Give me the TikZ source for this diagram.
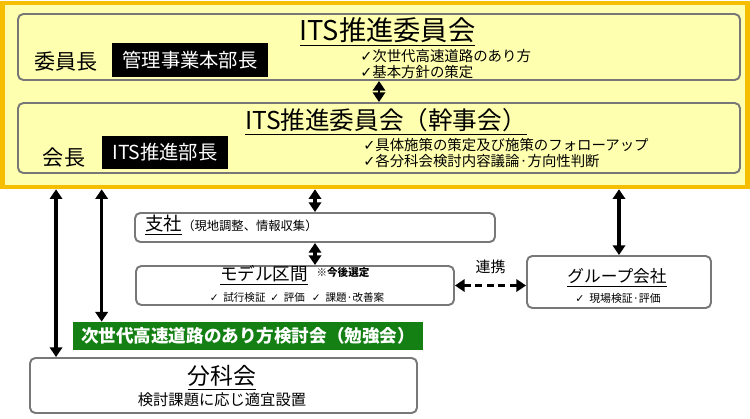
\documentclass[tikz,border=0pt]{standalone}
\usepackage{fontspec}
\setmainfont{Noto Sans CJK JP}
\newfontfamily\chkfont{DejaVu Sans}
\newcommand{\chk}{{\chkfont ✓}}
\usetikzlibrary{arrows.meta}
\definecolor{frame}{RGB}{245,190,0}
\definecolor{paleyellow}{RGB}{255,255,176}
\definecolor{boxgray}{RGB}{120,120,120}
\definecolor{studygreen}{RGB}{20,128,20}
\tikzset{
	panel/.style={draw=boxgray, line width=1.1pt, rounded corners=3pt, fill=white, inner sep=0pt},
	blackbox/.style={fill=black, text=white, inner sep=0pt},
	dbl/.style={{Triangle[length=5.5pt,width=7pt]}-{Triangle[length=5.5pt,width=7pt]}, line width=2pt},
	bigtitle/.style={font=\fontsize{14}{16}\selectfont, inner sep=0pt},
	midtitle/.style={font=\fontsize{10}{12}\selectfont, inner sep=0pt},
	small/.style={font=\fontsize{6}{7}\selectfont, inner sep=0pt}
}

\begin{document}
\begin{tikzpicture}
	\useasboundingbox (0,0) rectangle (15,-8.36);

	% Yellow frame
	\node[draw=frame, line width=2.3pt, fill=paleyellow, minimum width=14.9cm, minimum height=3.69cm, inner sep=0pt] (outer) at (7.5,-1.9) {};

	%Committee
	\node[panel, fill=paleyellow, minimum width=14.44cm, minimum height=1.32cm] (iinkai) at (7.58,-0.94) {};
	\node[bigtitle, font=\fontsize{15.5}{17}\selectfont] (iinkaiT) at (7.75,-0.64) {\underline{ITS推進委員会}};
	\node[inner sep=0pt, font=\fontsize{12}{14}\selectfont] (chair) at (1.32,-1.24) {委員長};
	\node[blackbox, minimum width=3.12cm, minimum height=0.68cm, font=\fontsize{11}{13}\selectfont] (chairName) at (3.8,-1.2) {管理事業本部長};
	\node[inner sep=0pt, anchor=north west, align=left, font=\fontsize{8.2}{9}\selectfont] (iinkaiC) at (7.2,-0.98) {\chk 次世代高速道路のあり方\\\chk 基本方針の策定};

	%Executive committee
	\node[panel, fill=paleyellow, minimum width=14.44cm, minimum height=1.4cm] (kanji) at (7.58,-2.76) {};
	\node[bigtitle] (kanjiT) at (7.72,-2.44) {\underline{ITS推進委員会（幹事会）}};
	\node[inner sep=0pt, font=\fontsize{12}{14}\selectfont] (head) at (1.28,-3.16) {会長};
	\node[blackbox, minimum width=2.52cm, minimum height=0.66cm, font=\fontsize{11}{13}\selectfont] (headName) at (3.3,-3.05) {ITS推進部長};
	\node[inner sep=0pt, anchor=north west, align=left, font=\fontsize{8.2}{9}\selectfont] (kanjiC) at (7.26,-2.76) {\chk 具体施策の策定及び施策のフォローアップ\\\chk 各分科会検討内容議論·方向性判断};

	%Branch
	\node[panel, minimum width=7.2cm, minimum height=0.58cm] (shisha) at (6.3,-4.55) {};
	\node[inner sep=0pt, anchor=west] (shishaT) at (2.9,-4.5) {{\fontsize{10.5}{12}\selectfont\underline{支社}}{\fontsize{7}{8}\selectfont（現地調整、情報収集）}};

	%Model section
	\node[panel, minimum width=6.36cm, minimum height=0.78cm] (model) at (5.9,-5.71) {};
	\node[midtitle] (modelT) at (5.28,-5.51) {\underline{モデル区間}};
	\node[small, font=\bfseries\fontsize{6}{7}\selectfont] (modelN) at (6.86,-5.44) {※今後選定};
	\node[small] (modelC) at (5.94,-5.94) {\chk\ \ 試行検証\ \ \chk\ \ 評価\ \ \ \chk\ \ 課題·改善案};

	%Group companies
	\node[panel, minimum width=3.68cm, minimum height=1.04cm] (group) at (12.38,-5.64) {};
	\node[font=\fontsize{9.5}{11}\selectfont, inner sep=0pt] (groupT) at (12.34,-5.56) {\underline{グループ会社}};
	\node[small, font=\fontsize{6.2}{7}\selectfont] (groupC) at (12.36,-5.96) {\chk\ \ 現場検証·評価};

	%Study group
	\node[fill=studygreen, text=white, minimum width=7cm, minimum height=0.56cm, inner sep=0pt, font=\bfseries\fontsize{10}{12}\selectfont] (study) at (4.96,-6.72) {次世代高速道路のあり方検討会（勉強会）};

	%Subcommittee
	\node[panel, minimum width=7.74cm, minimum height=1.1cm] (bunka) at (4.47,-7.71) {};
	\node[font=\fontsize{13}{15}\selectfont, inner sep=0pt] (bunkaT) at (4.44,-7.56) {\underline{分科会}};
	\node[font=\fontsize{8.7}{10}\selectfont, inner sep=0pt] (bunkaC) at (4.44,-8.0) {検討課題に応じ適宜設置};

	% Arrows
	\coordinate (bunkaIn) at ([xshift=0.54cm]bunka.north west);
	\coordinate (studyIn) at ([xshift=0.58cm]study.north west);
	\draw[dbl, line width=1.4pt] (iinkai.south) -- (kanji.north);
	\draw[dbl] (outer.south -| shisha.north) -- (shisha.north);
	\draw[dbl] (shisha.south) -- (shisha.south |- model.north);
	\draw[dbl] (outer.south -| group.north) -- (group.north);
	\draw[dbl] (outer.south -| bunkaIn) -- (bunkaIn);
	\draw[dbl] (outer.south -| studyIn) -- (studyIn);
	\draw[dbl, dash pattern=on 4pt off 2.5pt, line width=1.6pt] (model.east) -- node[above=6pt, inner sep=0pt, font=\fontsize{8.5}{10}\selectfont] (renkei) {連携} (model.east -| group.west);

\end{tikzpicture}
\end{document}
